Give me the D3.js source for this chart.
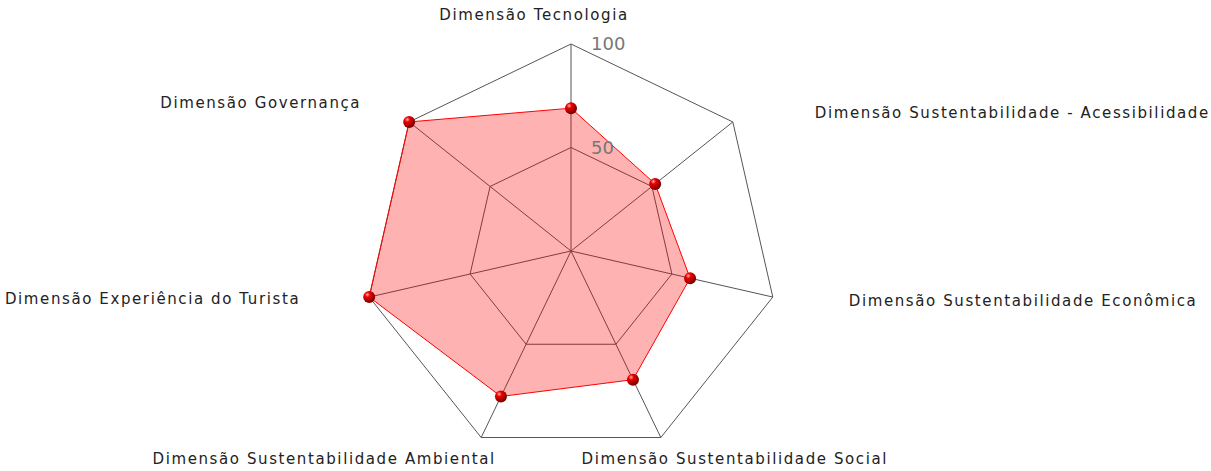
<!DOCTYPE html>
<html>
<head>
<meta charset="utf-8">
<script src="https://cdn.jsdelivr.net/npm/d3@7"></script>
<style>
  body { margin: 0; background: #fff; }
  svg text { font-family: "DejaVu Sans", sans-serif; }
</style>
</head>
<body>
<svg id="radar" width="1211" height="471"></svg>
<script>
// axis labels, clockwise from the top
var axes = [
  "Dimensão Tecnologia",
  "Dimensão Sustentabilidade - Acessibilidade",
  "Dimensão Sustentabilidade Econômica",
  "Dimensão Sustentabilidade Social",
  "Dimensão Sustentabilidade Ambiental",
  "Dimensão Experiência do Turista",
  "Dimensão Governança"
];
var values = [69, 52, 59, 69, 78, 100, 100];
var ringTicks = [50, 100];

// label placement (anchor + nudge from the outer vertex)
var labelAnchor = ["middle", "start", "start", "middle", "middle", "end", "end"];
var labelDx = [-37, 82, 76, 74, -157, -69, -48];
var labelDy = [-24, -4, 9, 26, 26, 7, -14];

var svg = d3.select("#radar"),
  cx = 571,
  cy = 251,
  radius = 207;

var r = d3.scaleLinear().domain([0, 100]).range([0, radius]);
var angle = d3.scaleLinear().domain([0, axes.length]).range([0, 2 * Math.PI]);

function pt(i, v) {
  var a = angle(i);
  return [cx + r(v) * Math.sin(a), cy - r(v) * Math.cos(a)];
}

// gradient for the ball markers
var defs = svg.append("defs");
var grad = defs.append("radialGradient").attr("id", "ball")
  .attr("cx", "35%").attr("cy", "30%").attr("r", "70%");
grad.append("stop").attr("offset", "0%").attr("stop-color", "#ffb0b0");
grad.append("stop").attr("offset", "30%").attr("stop-color", "#ee0000");
grad.append("stop").attr("offset", "100%").attr("stop-color", "#770000");

var line = d3.line().curve(d3.curveLinearClosed);

// grid rings
svg.append("g")
  .selectAll("path")
  .data(ringTicks)
  .join("path")
  .attr("d", function (t) {
    return line(axes.map(function (a, i) { return pt(i, t); }));
  })
  .attr("fill", "none")
  .attr("stroke", "#555")
  .attr("stroke-width", 1);

// spokes
svg.append("g")
  .selectAll("line")
  .data(axes)
  .join("line")
  .attr("x1", cx).attr("y1", cy)
  .attr("x2", function (d, i) { return pt(i, 100)[0]; })
  .attr("y2", function (d, i) { return pt(i, 100)[1]; })
  .attr("stroke", "#555")
  .attr("stroke-width", 1);

// data area
svg.append("path")
  .attr("d", line(values.map(function (v, i) { return pt(i, v); })))
  .attr("fill", "rgba(255,0,0,0.3)")
  .attr("stroke", "#ff0000")
  .attr("stroke-width", 1);

// markers
svg.append("g")
  .selectAll("circle")
  .data(values)
  .join("circle")
  .attr("cx", function (v, i) { return pt(i, v)[0]; })
  .attr("cy", function (v, i) { return pt(i, v)[1]; })
  .attr("r", 6)
  .attr("fill", "url(#ball)");

// ring value labels
svg.append("g")
  .selectAll("text")
  .data(ringTicks)
  .join("text")
  .attr("x", cx + 20)
  .attr("y", function (t) { return cy - r(t) + 6; })
  .attr("fill", "#777")
  .attr("font-size", 18)
  .text(function (t) { return t; });

// axis labels
svg.append("g")
  .selectAll("text")
  .data(axes)
  .join("text")
  .attr("x", function (d, i) { return pt(i, 100)[0] + labelDx[i]; })
  .attr("y", function (d, i) { return pt(i, 100)[1] + labelDy[i]; })
  .attr("text-anchor", function (d, i) { return labelAnchor[i]; })
  .attr("font-size", 15)
  .attr("letter-spacing", 1.6)
  .attr("fill", "#222")
  .text(function (d) { return d; });
</script>
</body>
</html>
